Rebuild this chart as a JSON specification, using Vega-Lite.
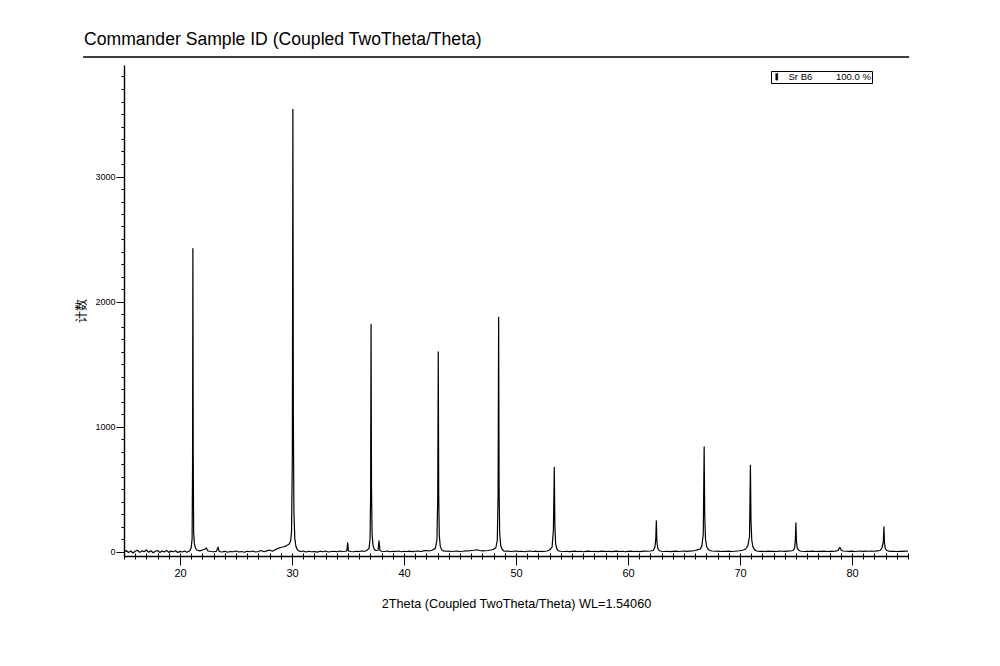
{
  "$schema": "https://vega.github.io/schema/vega-lite/v6.json",
  "width": 784,
  "height": 491,
  "autosize": {"type": "none"},
  "padding": {"left": 124, "top": 65, "right": 92, "bottom": 110},
  "background": "white",
  "config": {
    "view": {"stroke": null},
    "font": "Liberation Sans",
    "axis": {"domainColor": "#000", "tickColor": "#000", "labelColor": "#000", "titleColor": "#000", "grid": false}
  },
  "title": {
    "text": "Commander Sample ID (Coupled TwoTheta/Theta)",
    "anchor": "start",
    "frame": "group",
    "font": "Liberation Sans",
    "fontSize": 17.6,
    "fontWeight": "normal",
    "color": "#000",
    "dx": -40,
    "offset": 8
  },
  "data": {
    "values": [
      {"angle": 15.0, "counts": -5}, {"angle": 15.2, "counts": 8}, {"angle": 15.4, "counts": -8}, {"angle": 15.6, "counts": 4},
      {"angle": 15.8, "counts": -12}, {"angle": 16.0, "counts": 2}, {"angle": 16.2, "counts": 10}, {"angle": 16.4, "counts": -7},
      {"angle": 16.6, "counts": 5}, {"angle": 16.8, "counts": -2}, {"angle": 17.0, "counts": 12}, {"angle": 17.2, "counts": -6},
      {"angle": 17.4, "counts": 6}, {"angle": 17.6, "counts": -10}, {"angle": 17.8, "counts": 2}, {"angle": 18.0, "counts": 8},
      {"angle": 18.2, "counts": -8}, {"angle": 18.4, "counts": 4}, {"angle": 18.6, "counts": -4}, {"angle": 18.8, "counts": 9},
      {"angle": 19.0, "counts": -7}, {"angle": 19.2, "counts": 3}, {"angle": 19.4, "counts": -2}, {"angle": 19.6, "counts": 6},
      {"angle": 19.8, "counts": -8}, {"angle": 20.0, "counts": 1}, {"angle": 20.2, "counts": -4}, {"angle": 20.4, "counts": 4},
      {"angle": 20.6, "counts": -6}, {"angle": 20.8, "counts": 2},
      {"angle": 20.9, "counts": 8}, {"angle": 21.0, "counts": 30}, {"angle": 21.08, "counts": 100}, {"angle": 21.12, "counts": 650},
      {"angle": 21.15, "counts": 2424}, {"angle": 21.18, "counts": 800}, {"angle": 21.22, "counts": 150}, {"angle": 21.28, "counts": 65},
      {"angle": 21.38, "counts": 28}, {"angle": 21.5, "counts": 12},
      {"angle": 21.75, "counts": 5}, {"angle": 22.0, "counts": 12}, {"angle": 22.25, "counts": 20}, {"angle": 22.35, "counts": 28},
      {"angle": 22.5, "counts": 4}, {"angle": 22.75, "counts": 0}, {"angle": 23.0, "counts": -2}, {"angle": 23.25, "counts": 2},
      {"angle": 23.4, "counts": 35}, {"angle": 23.5, "counts": 0}, {"angle": 23.75, "counts": -4}, {"angle": 24.0, "counts": 2},
      {"angle": 24.25, "counts": -6}, {"angle": 24.5, "counts": 0}, {"angle": 24.75, "counts": -2}, {"angle": 25.0, "counts": 4},
      {"angle": 25.25, "counts": -4}, {"angle": 25.5, "counts": 0}, {"angle": 25.75, "counts": -6}, {"angle": 26.0, "counts": 2},
      {"angle": 26.25, "counts": -2}, {"angle": 26.5, "counts": 4}, {"angle": 26.75, "counts": -4}, {"angle": 27.0, "counts": 0},
      {"angle": 27.25, "counts": 8}, {"angle": 27.5, "counts": -2}, {"angle": 27.75, "counts": 5}, {"angle": 28.0, "counts": 12},
      {"angle": 28.25, "counts": 2}, {"angle": 28.5, "counts": 14}, {"angle": 28.75, "counts": 25}, {"angle": 29.0, "counts": 32},
      {"angle": 29.25, "counts": 38}, {"angle": 29.5, "counts": 45}, {"angle": 29.75, "counts": 60},
      {"angle": 29.88, "counts": 85}, {"angle": 29.96, "counts": 160}, {"angle": 30.03, "counts": 750}, {"angle": 30.08, "counts": 3538},
      {"angle": 30.12, "counts": 1100}, {"angle": 30.17, "counts": 320}, {"angle": 30.25, "counts": 105}, {"angle": 30.35, "counts": 40},
      {"angle": 30.48, "counts": 15}, {"angle": 30.6, "counts": 5},
      {"angle": 30.75, "counts": 0}, {"angle": 31.0, "counts": 4}, {"angle": 31.25, "counts": -4}, {"angle": 31.5, "counts": 2},
      {"angle": 31.75, "counts": -2}, {"angle": 32.0, "counts": 0}, {"angle": 32.25, "counts": -5}, {"angle": 32.5, "counts": 2},
      {"angle": 32.75, "counts": -2}, {"angle": 33.0, "counts": 4}, {"angle": 33.25, "counts": -4}, {"angle": 33.5, "counts": 0},
      {"angle": 33.75, "counts": 2}, {"angle": 34.0, "counts": -2}, {"angle": 34.25, "counts": 4}, {"angle": 34.5, "counts": 0},
      {"angle": 34.75, "counts": 2}, {"angle": 34.9, "counts": 5}, {"angle": 34.97, "counts": 70}, {"angle": 35.04, "counts": 4},
      {"angle": 35.25, "counts": 0}, {"angle": 35.5, "counts": -2}, {"angle": 35.75, "counts": 2}, {"angle": 36.0, "counts": 0},
      {"angle": 36.25, "counts": 4}, {"angle": 36.5, "counts": 2}, {"angle": 36.7, "counts": 10},
      {"angle": 36.88, "counts": 25}, {"angle": 36.97, "counts": 100}, {"angle": 37.02, "counts": 450}, {"angle": 37.06, "counts": 1818},
      {"angle": 37.1, "counts": 500}, {"angle": 37.15, "counts": 140}, {"angle": 37.24, "counts": 45}, {"angle": 37.36, "counts": 15},
      {"angle": 37.5, "counts": 8}, {"angle": 37.68, "counts": 10}, {"angle": 37.77, "counts": 85}, {"angle": 37.85, "counts": 8},
      {"angle": 38.0, "counts": 2},
      {"angle": 38.25, "counts": 0}, {"angle": 38.5, "counts": 4}, {"angle": 38.75, "counts": -2}, {"angle": 39.0, "counts": 2},
      {"angle": 39.25, "counts": 0}, {"angle": 39.5, "counts": 4}, {"angle": 39.75, "counts": -2}, {"angle": 40.0, "counts": 2},
      {"angle": 40.25, "counts": 0}, {"angle": 40.5, "counts": 3}, {"angle": 40.75, "counts": -1}, {"angle": 41.0, "counts": 2},
      {"angle": 41.25, "counts": 4}, {"angle": 41.5, "counts": 0}, {"angle": 41.75, "counts": 5}, {"angle": 42.0, "counts": 8},
      {"angle": 42.25, "counts": 4}, {"angle": 42.5, "counts": 10},
      {"angle": 42.8, "counts": 25}, {"angle": 42.94, "counts": 90}, {"angle": 43.01, "counts": 420}, {"angle": 43.06, "counts": 1598},
      {"angle": 43.1, "counts": 450}, {"angle": 43.15, "counts": 130}, {"angle": 43.24, "counts": 40}, {"angle": 43.36, "counts": 15},
      {"angle": 43.5, "counts": 5},
      {"angle": 43.75, "counts": 2}, {"angle": 44.0, "counts": 4}, {"angle": 44.25, "counts": 0}, {"angle": 44.5, "counts": 2},
      {"angle": 44.75, "counts": 4}, {"angle": 45.0, "counts": 0}, {"angle": 45.25, "counts": 2}, {"angle": 45.5, "counts": 5},
      {"angle": 45.75, "counts": 4}, {"angle": 46.0, "counts": 8}, {"angle": 46.25, "counts": 10}, {"angle": 46.5, "counts": 14},
      {"angle": 46.75, "counts": 8}, {"angle": 47.0, "counts": 5}, {"angle": 47.25, "counts": 6}, {"angle": 47.5, "counts": 8},
      {"angle": 47.75, "counts": 12}, {"angle": 48.0, "counts": 18}, {"angle": 48.2, "counts": 30},
      {"angle": 48.33, "counts": 90}, {"angle": 48.4, "counts": 460}, {"angle": 48.45, "counts": 1874}, {"angle": 48.49, "counts": 520},
      {"angle": 48.54, "counts": 150}, {"angle": 48.63, "counts": 50}, {"angle": 48.76, "counts": 18}, {"angle": 48.9, "counts": 5},
      {"angle": 49.0, "counts": 2}, {"angle": 49.25, "counts": 4}, {"angle": 49.5, "counts": 0}, {"angle": 49.75, "counts": 2},
      {"angle": 50.0, "counts": 4}, {"angle": 50.25, "counts": 0}, {"angle": 50.5, "counts": 2}, {"angle": 50.75, "counts": -2},
      {"angle": 51.0, "counts": 2}, {"angle": 51.25, "counts": 4}, {"angle": 51.5, "counts": 0}, {"angle": 51.75, "counts": 3},
      {"angle": 52.0, "counts": -1}, {"angle": 52.25, "counts": 2}, {"angle": 52.5, "counts": 0}, {"angle": 52.75, "counts": 4},
      {"angle": 53.0, "counts": 12},
      {"angle": 53.22, "counts": 35}, {"angle": 53.34, "counts": 170}, {"angle": 53.42, "counts": 674}, {"angle": 53.47, "counts": 210},
      {"angle": 53.54, "counts": 60}, {"angle": 53.66, "counts": 18}, {"angle": 53.8, "counts": 5},
      {"angle": 54.0, "counts": 2}, {"angle": 54.25, "counts": 0}, {"angle": 54.5, "counts": 2}, {"angle": 54.75, "counts": -1},
      {"angle": 55.0, "counts": 1}, {"angle": 55.25, "counts": 3}, {"angle": 55.5, "counts": 0}, {"angle": 55.75, "counts": 2},
      {"angle": 56.0, "counts": -2}, {"angle": 56.25, "counts": 1}, {"angle": 56.5, "counts": 3}, {"angle": 56.75, "counts": 0},
      {"angle": 57.0, "counts": 2}, {"angle": 57.25, "counts": -1}, {"angle": 57.5, "counts": 1}, {"angle": 57.75, "counts": 3},
      {"angle": 58.0, "counts": 0}, {"angle": 58.25, "counts": 2}, {"angle": 58.5, "counts": -1}, {"angle": 58.75, "counts": 1},
      {"angle": 59.0, "counts": 3}, {"angle": 59.25, "counts": 0}, {"angle": 59.5, "counts": 2}, {"angle": 59.75, "counts": -2},
      {"angle": 60.0, "counts": 1}, {"angle": 60.25, "counts": 3}, {"angle": 60.5, "counts": 0}, {"angle": 60.75, "counts": 2},
      {"angle": 61.0, "counts": -1}, {"angle": 61.25, "counts": 1}, {"angle": 61.5, "counts": 3}, {"angle": 61.75, "counts": 2},
      {"angle": 62.0, "counts": 4}, {"angle": 62.25, "counts": 8},
      {"angle": 62.4, "counts": 35}, {"angle": 62.48, "counts": 100}, {"angle": 62.53, "counts": 246}, {"angle": 62.58, "counts": 80},
      {"angle": 62.66, "counts": 25}, {"angle": 62.8, "counts": 6},
      {"angle": 63.0, "counts": 2}, {"angle": 63.25, "counts": 0}, {"angle": 63.5, "counts": 2}, {"angle": 63.75, "counts": -1},
      {"angle": 64.0, "counts": 1}, {"angle": 64.25, "counts": 3}, {"angle": 64.5, "counts": 0}, {"angle": 64.75, "counts": 2},
      {"angle": 65.0, "counts": 4}, {"angle": 65.25, "counts": 1}, {"angle": 65.5, "counts": 3}, {"angle": 65.75, "counts": 5},
      {"angle": 66.0, "counts": 8}, {"angle": 66.25, "counts": 15}, {"angle": 66.45, "counts": 20},
      {"angle": 66.6, "counts": 45}, {"angle": 66.72, "counts": 140}, {"angle": 66.8, "counts": 838}, {"angle": 66.85, "counts": 290},
      {"angle": 66.92, "counts": 100}, {"angle": 67.02, "counts": 40}, {"angle": 67.15, "counts": 18}, {"angle": 67.3, "counts": 8},
      {"angle": 67.5, "counts": 4},
      {"angle": 67.75, "counts": 2}, {"angle": 68.0, "counts": 3}, {"angle": 68.25, "counts": 0}, {"angle": 68.5, "counts": 2},
      {"angle": 68.75, "counts": 1}, {"angle": 69.0, "counts": 3}, {"angle": 69.25, "counts": 0}, {"angle": 69.5, "counts": 2},
      {"angle": 69.75, "counts": 4}, {"angle": 70.0, "counts": 6}, {"angle": 70.25, "counts": 10}, {"angle": 70.5, "counts": 20},
      {"angle": 70.7, "counts": 45}, {"angle": 70.85, "counts": 120}, {"angle": 70.93, "counts": 690}, {"angle": 70.98, "counts": 250},
      {"angle": 71.05, "counts": 90}, {"angle": 71.16, "counts": 35}, {"angle": 71.3, "counts": 15}, {"angle": 71.5, "counts": 4},
      {"angle": 71.75, "counts": 1}, {"angle": 72.0, "counts": 2}, {"angle": 72.25, "counts": 0}, {"angle": 72.5, "counts": 3},
      {"angle": 72.75, "counts": 1}, {"angle": 73.0, "counts": 2}, {"angle": 73.25, "counts": 0}, {"angle": 73.5, "counts": 3},
      {"angle": 73.75, "counts": 2}, {"angle": 74.0, "counts": 1}, {"angle": 74.25, "counts": 3}, {"angle": 74.5, "counts": 4},
      {"angle": 74.75, "counts": 8},
      {"angle": 74.88, "counts": 30}, {"angle": 74.94, "counts": 90}, {"angle": 74.99, "counts": 230}, {"angle": 75.04, "counts": 80},
      {"angle": 75.11, "counts": 25}, {"angle": 75.3, "counts": 6},
      {"angle": 75.5, "counts": 2}, {"angle": 75.75, "counts": 0}, {"angle": 76.0, "counts": 2}, {"angle": 76.25, "counts": 1},
      {"angle": 76.5, "counts": 3}, {"angle": 76.75, "counts": 0}, {"angle": 77.0, "counts": 2}, {"angle": 77.25, "counts": 1},
      {"angle": 77.5, "counts": 3}, {"angle": 77.75, "counts": 0}, {"angle": 78.0, "counts": 2}, {"angle": 78.25, "counts": 1},
      {"angle": 78.5, "counts": 3}, {"angle": 78.75, "counts": 8},
      {"angle": 78.85, "counts": 25}, {"angle": 78.93, "counts": 32}, {"angle": 79.03, "counts": 12}, {"angle": 79.2, "counts": 4},
      {"angle": 79.5, "counts": 2}, {"angle": 79.75, "counts": 1}, {"angle": 80.0, "counts": 3}, {"angle": 80.25, "counts": 0},
      {"angle": 80.5, "counts": 2}, {"angle": 80.75, "counts": 4}, {"angle": 81.0, "counts": 1}, {"angle": 81.25, "counts": 3},
      {"angle": 81.5, "counts": 2}, {"angle": 81.75, "counts": 4}, {"angle": 82.0, "counts": 2}, {"angle": 82.25, "counts": 5},
      {"angle": 82.5, "counts": 8},
      {"angle": 82.68, "counts": 30}, {"angle": 82.8, "counts": 80}, {"angle": 82.85, "counts": 198}, {"angle": 82.9, "counts": 70},
      {"angle": 82.97, "counts": 25}, {"angle": 83.1, "counts": 8}, {"angle": 83.3, "counts": 3},
      {"angle": 83.5, "counts": 1}, {"angle": 83.75, "counts": 2}, {"angle": 84.0, "counts": 0}, {"angle": 84.25, "counts": 2},
      {"angle": 84.5, "counts": 1}, {"angle": 84.75, "counts": 3}, {"angle": 85.0, "counts": 2}
    ]
  },
  "layer": [
    {
      "mark": {"type": "line", "strokeWidth": 1.2, "strokeJoin": "round", "clip": true},
      "encoding": {
        "x": {
          "field": "angle", "type": "quantitative",
          "scale": {"domain": [15, 85], "nice": false, "zero": false},
          "axis": {
            "orient": "bottom",
            "values": [20, 30, 40, 50, 60, 70, 80],
            "title": "2Theta (Coupled TwoTheta/Theta) WL=1.54060",
            "titleFont": "Liberation Sans", "titleFontSize": 12.7, "titleFontWeight": "normal", "titlePadding": 19,
            "labelFont": "Liberation Sans", "labelFontSize": 11, "labelPadding": 2,
            "tickSize": 9, "tickWidth": 1, "domainWidth": 1.4
          }
        },
        "y": {
          "field": "counts", "type": "quantitative",
          "scale": {"domain": [-36, 3892], "nice": false, "zero": false},
          "axis": {
            "orient": "left",
            "values": [0, 1000, 2000, 3000],
            "format": "d",
            "title": "计数",
            "titleFont": "Noto Sans CJK SC", "titleFontSize": 12, "titleFontWeight": "normal", "titlePadding": 6,
            "labelFont": "Liberation Sans", "labelFontSize": 9, "labelPadding": 1,
            "tickSize": 8, "tickWidth": 1, "domainWidth": 1.4
          }
        },
        "color": {
          "datum": "Sr B6\u00a0\u00a0\u00a0\u00a0\u00a0\u00a0\u00a0\u00a0\u00a0100.0 %",
          "type": "nominal",
          "scale": {"range": ["black"]},
          "legend": {
            "title": null,
            "orient": "none",
            "legendX": 647,
            "legendY": 6,
            "strokeColor": "black",
            "padding": 1,
            "symbolType": "M-0.3,-1H0.3V1H-0.3Z",
            "symbolSize": 45,
            "symbolFillColor": "black",
            "symbolStrokeColor": "black",
            "symbolStrokeWidth": 0.5,
            "labelFont": "Liberation Sans",
            "labelFontSize": 9.5,
            "labelColor": "#000",
            "labelOffset": 7,
            "labelLimit": 200
          }
        }
      }
    },
    {
      "data": {"values": [{"line": "title rule"}]},
      "mark": {"type": "rule", "color": "black", "strokeWidth": 1.5},
      "encoding": {
        "x": {
          "datum": 11.35, "type": "quantitative",
          "scale": {"domain": [15, 85], "nice": false, "zero": false},
          "axis": {
            "orient": "bottom",
            "values": [15,16,17,18,19,20,21,22,23,24,25,26,27,28,29,30,31,32,33,34,35,36,37,38,39,40,41,42,43,44,45,46,47,48,49,50,51,52,53,54,55,56,57,58,59,60,61,62,63,64,65,66,67,68,69,70,71,72,73,74,75,76,77,78,79,80,81,82,83,84,85],
            "labels": false, "domain": false, "title": null,
            "tickSize": 6, "offset": -3, "tickWidth": 1
          }
        },
        "x2": {"datum": 85.1},
        "y": {
          "datum": 3956, "type": "quantitative",
          "scale": {"domain": [-36, 3892], "nice": false, "zero": false},
          "axis": {
            "orient": "left",
            "values": [0,100,200,300,400,500,600,700,800,900,1000,1100,1200,1300,1400,1500,1600,1700,1800,1900,2000,2100,2200,2300,2400,2500,2600,2700,2800,2900,3000,3100,3200,3300,3400,3500,3600,3700,3800],
            "labels": false, "domain": false, "title": null,
            "tickSize": 3, "tickWidth": 1
          }
        }
      }
    }
  ],
  "resolve": {"axis": {"x": "independent", "y": "independent"}}
}
